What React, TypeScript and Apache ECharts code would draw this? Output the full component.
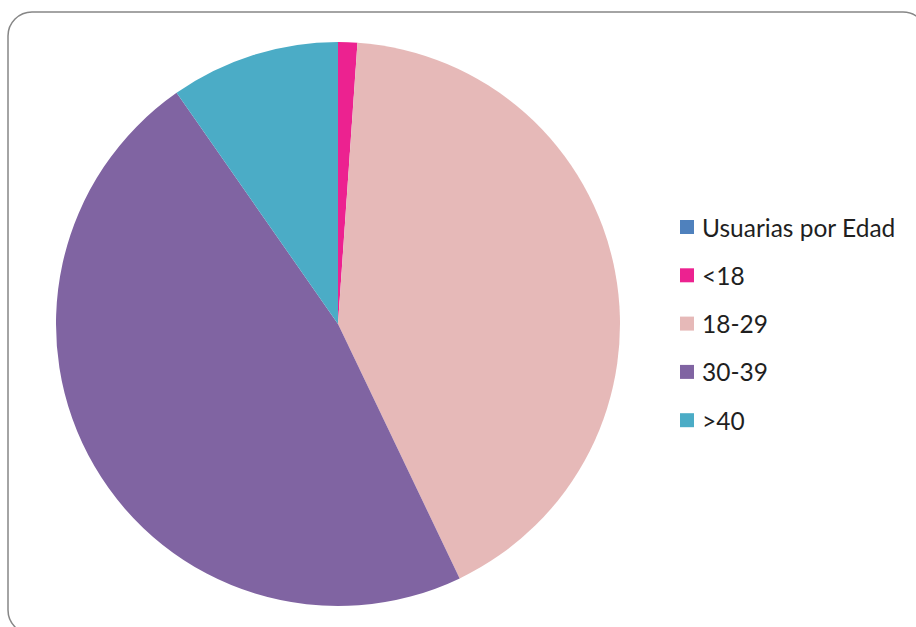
import React, { useEffect, useRef } from "react";
import * as echarts from "echarts";

const seriesName = "Usuarias por Edad";
const categories = ["<18", "18-29", "30-39", ">40"];
const values = [1.1, 41.8, 47.4, 9.7];
const sliceColors = ["#EC2290", "#E6B9B8", "#8064A2", "#4BACC6"];
const seriesColor = "#4F81BD";

export default function App() {
  const ref = useRef<HTMLDivElement>(null);
  useEffect(() => {
    if (!ref.current) return;
    const chart = echarts.init(ref.current, undefined, { renderer: "svg" });
    chart.setOption({
      animation: false,
      backgroundColor: "#ffffff",
      graphic: [
        {
          type: "rect",
          shape: { x: 8, y: 12, width: 919, height: 622, r: 24 },
          style: { fill: "none", stroke: "#868686", lineWidth: 1.5 },
          silent: true,
        },
      ],
      legend: {
        orient: "vertical",
        left: 680,
        top: 214,
        padding: 0,
        itemWidth: 14,
        itemHeight: 14,
        itemGap: 22.3,
        selectedMode: false,
        icon: "rect",
        textStyle: {
          fontFamily: "Lato",
          fontSize: 24.5,
          lineHeight: 26,
          color: "#1f1f1f",
          padding: [0, 0, 0, 3],
        },
        data: [
          { name: seriesName, itemStyle: { color: seriesColor } },
          ...categories.map((c, i) => ({ name: c, itemStyle: { color: sliceColors[i] } })),
        ],
      },
      series: [
        {
          name: seriesName,
          type: "pie",
          center: [338, 324],
          radius: 282,
          startAngle: 90,
          clockwise: true,
          label: { show: false },
          labelLine: { show: false },
          itemStyle: { color: seriesColor, borderWidth: 0 },
          emphasis: { disabled: true },
          data: categories.map((c, i) => ({
            name: c,
            value: values[i],
            itemStyle: { color: sliceColors[i] },
          })),
        },
      ],
    });
    return () => chart.dispose();
  }, []);
  return (
    <div
      ref={ref}
      style={{ position: "fixed", left: 0, top: 0, width: 916, height: 627 }}
    />
  );
}
